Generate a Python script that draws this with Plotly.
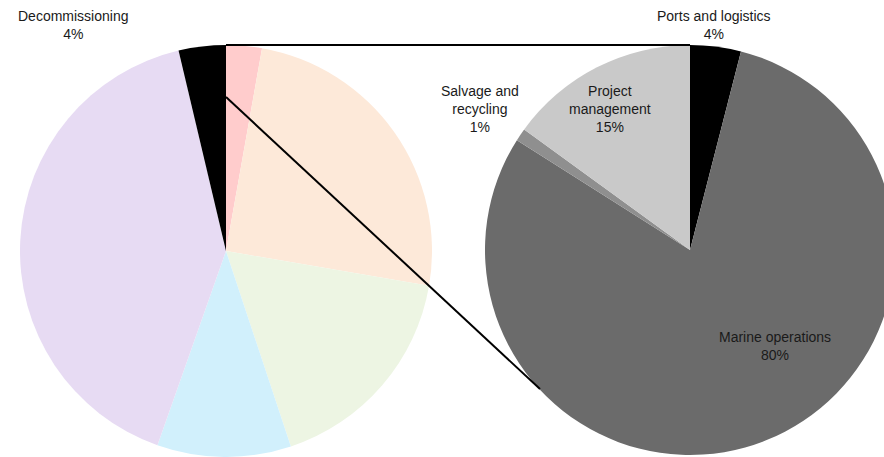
import plotly.graph_objects as go

W, H = 896, 457

# Left pie: lifecycle cost breakdown
left_labels = ["Development and project management", "Turbine", "Balance of plant",
               "Installation and commissioning", "Operation, maintenance and service", "Decommissioning"]
left_values = [2.8, 24.9, 17.2, 10.5, 40.9, 3.7]
left_colors = ["#FFCCCC", "#FDE9D9", "#EDF5E3", "#D1F0FC", "#E7DBF3", "#000000"]

# Right pie: decommissioning breakdown
right_labels = ["Ports and logistics", "Marine operations", "Salvage and recycling", "Project management"]
right_values = [4, 80, 1, 15]
right_colors = ["#000000", "#6B6B6B", "#8F8F8F", "#C9C9C9"]

def px(x):
    return x / W

def py(y):
    return 1 - y / H

fig = go.Figure()
fig.add_trace(go.Pie(
    labels=left_labels, values=left_values, sort=False, direction="clockwise", rotation=0,
    marker=dict(colors=left_colors, line=dict(width=0)), textinfo="none",
    domain=dict(x=[px(19), px(433)], y=[0, py(45)]), showlegend=False,
))
fig.add_trace(go.Pie(
    labels=right_labels, values=right_values, sort=False, direction="clockwise", rotation=0,
    marker=dict(colors=right_colors, line=dict(width=0)), textinfo="none",
    domain=dict(x=[px(485), px(895)], y=[py(455), py(45)]), showlegend=False,
))

def pct(vals, i):
    return f"{round(100 * vals[i] / sum(vals))}%"

font = dict(family="Liberation Sans, Arial, sans-serif", size=14, color="#1a1a1a")
ann = [
    ("Decommissioning<br>" + pct(left_values, 5), 73, 25),
    ("Ports and logistics<br>" + pct(right_values, 0), 714, 25),
    ("Salvage and<br>recycling<br>" + pct(right_values, 2), 480, 109),
    ("Project<br>management<br>" + pct(right_values, 3), 610, 109),
    ("Marine operations<br>" + pct(right_values, 1), 775, 346),
]
for text, x, y in ann:
    fig.add_annotation(text=text, x=px(x), y=py(y), xref="paper", yref="paper",
                       showarrow=False, font=font, xanchor="center", yanchor="middle", align="center")

fig.add_shape(type="line", xref="paper", yref="paper", x0=px(226), y0=py(45), x1=px(690), y1=py(45),
              line=dict(color="black", width=2))
fig.add_shape(type="line", xref="paper", yref="paper", x0=px(226), y0=py(97), x1=px(540), y1=py(389),
              line=dict(color="black", width=2))

fig.update_layout(width=W, height=H, margin=dict(l=0, r=0, t=0, b=0),
                  paper_bgcolor="white", plot_bgcolor="white")
fig.write_html("out.html",
               post_script="document.documentElement.style.overflow='hidden';"
                           "document.body.style.overflow='hidden';document.body.style.margin='0';")
